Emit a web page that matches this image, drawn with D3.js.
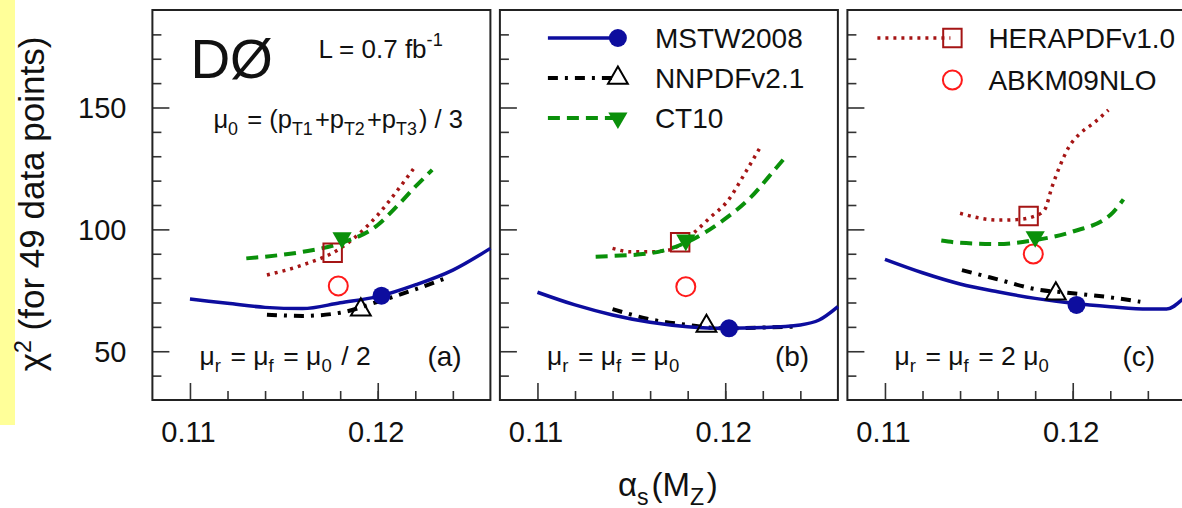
<!DOCTYPE html>
<html lang="en">
<head>
<meta charset="UTF-8">
<title>chi2 vs alpha_s(MZ)</title>
<script src="https://d3js.org/d3.v7.min.js"></script>
<style>
  body { margin: 0; background: #fff; font-family: "Liberation Sans", Arial, sans-serif; }
  svg text { fill: #111; }
</style>
</head>
<body>
<svg id="chart" width="1182" height="508"></svg>
<script>
// values: [alpha_s(MZ), chi2]
const panelTags = ["(a)", "(b)", "(c)"];
const xTickMajor = [0.11, 0.12];
const yTickMajor = [50, 100, 150];

const mstwA = [[0.110,71.4],[0.112,69.7],[0.114,68.0],[0.116,67.5],[0.118,69.9],[0.120,72.4],[0.122,77.2],[0.124,83.3],[0.126,92.2]];
const mstwB = [[0.110,74.2],[0.112,69.0],[0.114,64.9],[0.116,61.9],[0.118,60.1],[0.120,59.4],[0.122,59.7],[0.124,60.8],[0.125,62.8],[0.126,68.3]];
const mstwC = [[0.110,87.7],[0.112,82.2],[0.114,77.6],[0.116,74.4],[0.118,71.7],[0.120,69.7],[0.122,68.3],[0.124,67.3],[0.125,67.3],[0.1258,71.0],[0.126,72.5]];

const nnpdfA = [[0.1141,65.0],[0.116,64.5],[0.118,65.8],[0.120,70.3],[0.122,75.4],[0.1236,79.9]];
const nnpdfB = [[0.1140,67.3],[0.116,63.1],[0.118,60.8],[0.120,59.4],[0.122,59.7],[0.1237,60.1]];
const nnpdfC = [[0.1141,83.3],[0.116,79.5],[0.118,75.5],[0.120,73.8],[0.122,72.1],[0.1236,70.3]];

const ct10A = [[0.1130,88.1],[0.114,88.8],[0.116,90.8],[0.118,94.3],[0.120,101.8],[0.121,109.3],[0.122,117.5],[0.1229,124.4]];
const ct10B = [[0.1131,88.8],[0.114,89.1],[0.116,90.2],[0.118,94.9],[0.1199,103.8],[0.1213,112.7],[0.1227,125.1],[0.1231,128.7]];
const ct10C = [[0.1130,95.4],[0.114,94.5],[0.116,94.0],[0.118,95.6],[0.120,99.1],[0.122,105.9],[0.1227,112.3]];

const heraA = [[0.1141,81.3],[0.116,85.4],[0.118,92.2],[0.120,105.9],[0.121,115.5],[0.1219,124.8]];
const heraB = [[0.1140,92.2],[0.115,90.8],[0.116,90.8],[0.117,91.5],[0.1184,99.1],[0.1192,104.9],[0.1201,111.4],[0.1211,123.7],[0.1219,134.2]];
const heraC = [[0.1140,106.6],[0.116,103.8],[0.117,104.0],[0.118,105.5],[0.1185,108.0],[0.1189,117.5],[0.1193,125.7],[0.1198,133.9],[0.1204,139.4],[0.1211,143.5],[0.1219,149.0]];

// best-fit markers, one per panel
const mstwBest  = [[0.1202,72.8],[0.1202,59.4],[0.1202,69.0]];
const nnpdfBest = [[0.1191,67.0],[0.1190,60.3],[0.1191,73.6]];
const ct10Best  = [[0.1181,96.5],[0.1179,95.6],[0.1180,97.0]];
const heraBest  = [[0.1176,90.4],[0.1176,94.7],[0.11765,105.5]];
const abkmBest  = [[0.1179,76.8],[0.1179,76.5],[0.1179,89.9]];

const legendB = ["MSTW2008", "NNPDFv2.1", "CT10"];
const legendC = ["HERAPDFv1.0", "ABKM09NLO"];

// styles
const sty = {
  mstw:  { color: "#0d0d9e", width: 3.5, dash: null },
  nnpdf: { color: "#000",    width: 4,   dash: "10,7,3,7" },
  ct10:  { color: "#0a900a", width: 4,   dash: "12,7" },
  hera:  { color: "#a51515", width: 3.5, dash: "3,5" },
  abkm:  { color: "#ff1a1a" }
};

const svg = d3.select("#chart");
const yTop = 10, yBottom = 400, pw = 338;
const panelLeft = [152.4, 499.9, 847.4];

const y = d3.scaleLinear().domain([30, 190]).range([yBottom, yTop]);

// yellow strip at left edge
svg.append("rect").attr("x", 0).attr("y", 0).attr("width", 15).attr("height", 425).attr("fill", "#ffff99");

const curves = [
  [mstwA, mstwB, mstwC],
  [nnpdfA, nnpdfB, nnpdfC],
  [ct10A, ct10B, ct10C],
  [heraA, heraB, heraC]
];
const curveKeys = ["mstw", "nnpdf", "ct10", "hera"];
const drawOrder = [3, 2, 1, 0];

function richText(g, x, yy, size, parts, anchor) {
  const t = g.append("text").attr("x", x).attr("y", yy)
    .style("font-size", size + "px").attr("text-anchor", anchor || "start");
  parts.forEach(p => {
    if (p.sub !== undefined) {
      t.append("tspan").text(p.t);
      t.append("tspan").attr("dy", size * 0.28).style("font-size", (size * 0.7) + "px").text(p.sub);
      t.append("tspan").attr("dy", -size * 0.28).text("\u200a");
    } else if (p.sup !== undefined) {
      t.append("tspan").text(p.t);
      t.append("tspan").attr("dy", -size * 0.45).style("font-size", (size * 0.7) + "px").text(p.sup);
      t.append("tspan").attr("dy", size * 0.45).text("");
    } else {
      t.append("tspan").text(p.t);
    }
  });
  return t;
}

function marker(g, kind, cx, cy) {
  if (kind === "mstw") {
    g.append("path").attr("d", d3.symbol(d3.symbolCircle, 254)())
      .attr("transform", `translate(${cx},${cy})`).attr("fill", sty.mstw.color);
  } else if (kind === "nnpdf") {
    g.append("path").attr("d", d3.symbol(d3.symbolTriangle, 170)())
      .attr("transform", `translate(${cx},${cy})`).attr("fill", "none")
      .attr("stroke", "#000").attr("stroke-width", 2);
  } else if (kind === "ct10") {
    g.append("path").attr("d", d3.symbol(d3.symbolTriangle, 160)())
      .attr("transform", `translate(${cx},${cy}) rotate(180)`).attr("fill", sty.ct10.color);
  } else if (kind === "hera") {
    g.append("path").attr("d", d3.symbol(d3.symbolSquare, 340)())
      .attr("transform", `translate(${cx},${cy})`).attr("fill", "none")
      .attr("stroke", sty.hera.color).attr("stroke-width", 2);
  } else {
    g.append("circle").attr("cx", cx).attr("cy", cy).attr("r", 9.5)
      .attr("fill", "none").attr("stroke", sty.abkm.color).attr("stroke-width", 2);
  }
}

panelLeft.forEach((left, i) => {
  const x = d3.scaleLinear().domain([0.108, 0.126]).range([left, left + pw]);
  const g = svg.append("g");

  // minor + major ticks
  g.append("g").attr("transform", `translate(${left},0)`)
    .call(d3.axisLeft(y).tickValues(d3.range(40, 190, 10).filter(v => v % 50 !== 0)).tickSize(-9).tickFormat(""));
  const yAx = g.append("g").attr("transform", `translate(${left},0)`)
    .call(d3.axisLeft(y).tickValues(yTickMajor).tickSize(-17).tickPadding(26)
      .tickFormat(i === 0 ? d3.format("d") : () => ""));
  g.append("g").attr("transform", `translate(0,${yBottom})`)
    .call(d3.axisBottom(x).tickValues(d3.range(0.112, 0.1245, 0.002)).tickSize(-9).tickFormat(""));
  const xAx = g.append("g").attr("transform", `translate(0,${yBottom})`)
    .call(d3.axisBottom(x).tickValues(xTickMajor).tickSize(-17).tickPadding(21).tickFormat(d3.format(".2f")));
  g.selectAll(".domain").remove();
  g.selectAll(".tick line").attr("stroke", "#333").attr("stroke-width", 1.6);
  g.selectAll(".tick text").style("font-size", "29px").style("font-family", "Liberation Sans, Arial, sans-serif").attr("fill", "#111");
  yAx.selectAll(".tick text").attr("dy", "0.36em");
  xAx.selectAll(".tick text").attr("dx", "-2");

  // frame
  g.append("rect").attr("x", left).attr("y", yTop).attr("width", pw).attr("height", yBottom - yTop)
    .attr("fill", "none").attr("stroke", "#222").attr("stroke-width", 2);

  const line = d3.line().x(d => x(d[0])).y(d => y(d[1])).curve(d3.curveMonotoneX);
  drawOrder.forEach(k => {
    const s = sty[curveKeys[k]];
    g.append("path").datum(curves[k][i]).attr("d", line)
      .attr("fill", "none").attr("stroke", s.color).attr("stroke-width", s.width)
      .attr("stroke-dasharray", s.dash);
  });

  marker(g, "abkm", x(abkmBest[i][0]), y(abkmBest[i][1]));
  marker(g, "hera", x(heraBest[i][0]), y(heraBest[i][1]));
  marker(g, "ct10", x(ct10Best[i][0]), y(ct10Best[i][1]));
  marker(g, "nnpdf", x(nnpdfBest[i][0]), y(nnpdfBest[i][1]));
  marker(g, "mstw", x(mstwBest[i][0]), y(mstwBest[i][1]));

  // scale choice label and panel tag
  const scaleParts = [
    [{t: "\u03bc", sub: "r"}, {t: " = \u03bc", sub: "f"}, {t: " = \u03bc", sub: "0"}, {t: " / 2"}],
    [{t: "\u03bc", sub: "r"}, {t: " = \u03bc", sub: "f"}, {t: " = \u03bc", sub: "0"}],
    [{t: "\u03bc", sub: "r"}, {t: " = \u03bc", sub: "f"}, {t: " = 2 \u03bc", sub: "0"}]
  ][i];
  richText(g, left + 47, 365, 26.5, scaleParts);
  g.append("text").attr("x", left + 275).attr("y", 366).style("font-size", "28px").text(panelTags[i]);
});

// panel (a) texts
const a0 = panelLeft[0];
svg.append("text").attr("x", a0 + 38).attr("y", 78).style("font-size", "55px").text("D\u00d8");
richText(svg, a0 + 166, 58, 26, [{t: "L = 0.7 fb", sup: "-1"}]);
richText(svg, a0 + 61, 128, 25.5, [
  {t: "\u03bc", sub: "0"}, {t: " = (p", sub: "T1"}, {t: "+p", sub: "T2"}, {t: "+p", sub: "T3"}, {t: ") / 3"}
]);

// legend in panel (b)
const legKeysB = ["mstw", "nnpdf", "ct10"];
legendB.forEach((name, j) => {
  const l = panelLeft[1], cy = 38 + j * 40;
  const s = sty[legKeysB[j]];
  svg.append("line").attr("x1", l + 48).attr("x2", l + 118).attr("y1", cy).attr("y2", cy)
    .attr("stroke", s.color).attr("stroke-width", s.width).attr("stroke-dasharray", s.dash);
  marker(svg, legKeysB[j], l + 118, cy);
  svg.append("text").attr("x", l + 155).attr("y", cy + 10).style("font-size", "28px").text(name);
});

// legend in panel (c)
const legKeysC = ["hera", "abkm"];
legendC.forEach((name, j) => {
  const l = panelLeft[2], cy = 38 + j * 42;
  const s = sty[legKeysC[j]];
  if (s.width) {
    svg.append("line").attr("x1", l + 30).attr("x2", l + 103).attr("y1", cy).attr("y2", cy)
      .attr("stroke", s.color).attr("stroke-width", s.width).attr("stroke-dasharray", s.dash);
  }
  marker(svg, legKeysC[j], l + 105, cy);
  svg.append("text").attr("x", l + 141).attr("y", cy + 10).style("font-size", "28px").text(name);
});

// axis titles
const yt = svg.append("text").attr("transform", "translate(44,204) rotate(-90)")
  .attr("text-anchor", "middle").style("font-size", "35px");
yt.append("tspan").text("\u03c7");
yt.append("tspan").attr("dy", -13).style("font-size", "23px").text("2");
yt.append("tspan").attr("dy", 13).text(" (for 49 data points)");

richText(svg, 618, 496, 33, [{t: "\u03b1", sub: "s"}, {t: "(M", sub: "Z"}, {t: ")"}]);
</script>
</body>
</html>
